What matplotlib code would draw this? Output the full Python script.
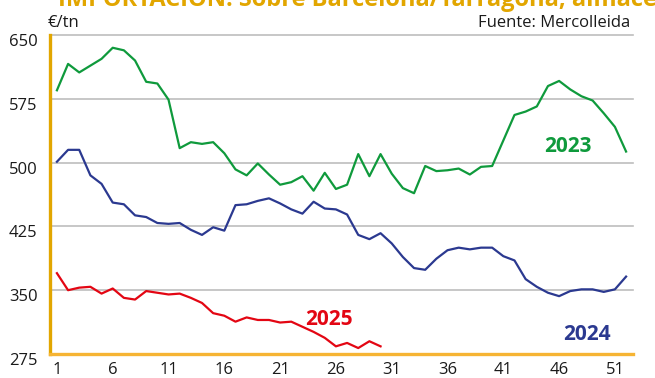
import matplotlib
matplotlib.use("Agg")
import matplotlib.pyplot as plt
from matplotlib.transforms import ScaledTranslation

plt.rcParams['font.family'] = ['Open Sans', 'DejaVu Sans']

# weekly prices, €/tn
weeks_2023 = list(range(1, 53))
price_2023 = [585, 616, 606, 614, 622, 635, 632, 620, 595, 593,
              574, 517, 524, 522, 524, 511, 492, 485, 499, 486,
              474, 477, 484, 467, 488, 469, 474, 510, 484, 510,
              487, 470, 464, 496, 490, 491, 493, 486, 495, 496,
              526, 556, 560, 566, 590, 596, 586, 578, 573, 558,
              542, 513]

weeks_2024 = list(range(1, 53))
price_2024 = [501, 515, 515, 485, 475, 453, 451, 438, 436, 429,
              428, 429, 421, 415, 424, 420, 450, 451, 455, 458,
              452, 445, 440, 454, 446, 445, 439, 415, 410, 417,
              405, 389, 376, 374, 387, 397, 400, 398, 400, 400,
              390, 385, 363, 354, 347, 343, 349, 351, 351, 348,
              351, 366]

weeks_2025 = list(range(1, 31))
price_2025 = [370, 350, 353, 354, 346, 352, 341, 339, 349, 347,
              345, 346, 341, 335, 323, 320, 313, 318, 315, 315,
              312, 313, 307, 301, 294, 284, 288, 282, 290, 284]

y_ticks = [275, 350, 425, 500, 575, 650]
x_ticks = [1, 6, 11, 16, 21, 26, 31, 36, 41, 46, 51]

green = '#0F9A3C'
navy = '#2B3990'
red = '#E30613'

fig = plt.figure(figsize=(6.55, 3.78), dpi=100)
ax = fig.add_axes([50 / 655, 24 / 378, 583 / 655, 319 / 378])

for v in y_ticks[1:]:
    ax.axhline(v, color='#BDBDBD', lw=1.2, zorder=1, clip_on=False)

ax.plot(weeks_2023, price_2023, color=green, lw=1.6, zorder=3)
ax.plot(weeks_2024, price_2024, color=navy, lw=1.6, zorder=3)
ax.plot(weeks_2025, price_2025, color=red, lw=1.6, zorder=3)

# series labels inside the plot
ax.text(46.8, 519, '2023', color=green, fontsize=15, fontweight='bold',
        ha='center', va='center')
ax.text(48.5, 298, '2024', color=navy, fontsize=15, fontweight='bold',
        ha='center', va='center')
ax.text(25.4, 315, '2025', color=red, fontsize=15, fontweight='bold',
        ha='center', va='center')

ax.set_xlim(0.38, 52.62)
ax.set_ylim(275, 650)
ax.set_xticks(x_ticks)
ax.set_yticks(y_ticks)
ax.tick_params(axis='both', length=0, labelsize=12, labelcolor='#1a1a1a')
ax.tick_params(axis='y', pad=9)
ax.tick_params(axis='x', pad=6)
for lab in ax.get_yticklabels():
    lab.set_transform(lab.get_transform() + ScaledTranslation(0, -5 / 100, fig.dpi_scale_trans))

for side in ['top', 'right']:
    ax.spines[side].set_visible(False)
ax.spines['left'].set_color('#E2A600')
ax.spines['left'].set_linewidth(2.4)
ax.spines['bottom'].set_color('#F6B433')
ax.spines['bottom'].set_linewidth(2.4)
ax.spines['left'].set_zorder(4)
ax.spines['bottom'].set_zorder(4)

fig.text(48 / 655, 1 - 27 / 378, '€/tn', fontsize=12, color='#1a1a1a',
         ha='left', va='baseline')
fig.text(630 / 655, 1 - 27 / 378, 'Fuente: Mercolleida', fontsize=12,
         color='#1a1a1a', ha='right', va='baseline')
fig.text(58 / 655, 1 - 6 / 378,
         'IMPORTACIÓN: Sobre Barcelona/Tarragona, almacén',
         fontsize=17, fontweight='bold', color='#E2A600',
         ha='left', va='baseline')

fig.savefig('out.png', dpi=100)
